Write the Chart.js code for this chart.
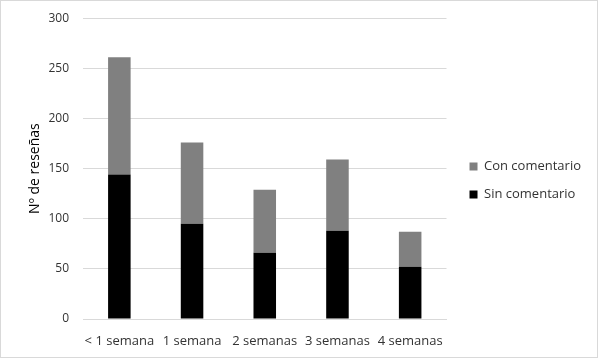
<!DOCTYPE html>
<html lang="es">
<head>
<meta charset="UTF-8">
<title>Nº de reseñas</title>
<script src="https://cdn.jsdelivr.net/npm/chart.js"></script>
<style>
  html, body { margin: 0; padding: 0; background: #fff; }
  #wrap { width: 596px; height: 356px; border: 1px solid #d9d9d9; }
</style>
</head>
<body>
<div id="wrap"><canvas id="myChart" width="596" height="356"></canvas></div>
<script>
// datos
const categorias = ['< 1 semana', '1 semana', '2 semanas', '3 semanas', '4 semanas'];
const sinComentario = [144, 95, 66, 88, 52];
const conComentario = [117, 81, 63, 71, 35];
const yTicks = [0, 50, 100, 150, 200, 250, 300];

const colorTexto = '#333333';

// ajusta la posicion de la leyenda al original
const moverLeyenda = {
    id: 'moverLeyenda',
    afterLayout(chart) {
        const lg = chart.legend;
        lg.top -= 1; lg.bottom -= 1;
        lg.left += 8; lg.right += 8;
    }
};

const ctx = document.getElementById('myChart').getContext('2d');
new Chart(ctx, {
    type: 'bar',
    data: {
        labels: categorias,
        datasets: [
            {
                label: 'Sin comentario',
                data: sinComentario,
                backgroundColor: '#000000',
                categoryPercentage: 0.62,
                barPercentage: 0.5
            },
            {
                label: 'Con comentario',
                data: conComentario,
                backgroundColor: '#808080',
                categoryPercentage: 0.62,
                barPercentage: 0.5
            }
        ]
    },
    options: {
        responsive: false,
        animation: false,
        layout: { padding: { top: 5, right: 14, left: 26, bottom: 0 } },
        scales: {
            x: {
                stacked: true,
                grid: { display: false },
                border: { color: '#d9d9d9' },
                ticks: { color: colorTexto, font: { family: 'Open Sans', size: 13 }, maxRotation: 0, padding: 6 },
                afterFit: s => { s.height = 38; }
            },
            y: {
                stacked: true,
                min: 0,
                max: 300,
                afterBuildTicks: s => { s.ticks = yTicks.map(v => ({ value: v })); },
                grid: { color: '#d9d9d9', drawTicks: true, tickLength: 4, tickColor: 'rgba(0,0,0,0)' },
                border: { display: false },
                ticks: { color: colorTexto, font: { family: 'Open Sans', size: 12 }, padding: 10 },
                title: {
                    display: true,
                    text: 'Nº de reseñas',
                    color: '#000',
                    font: { family: 'Open Sans', size: 14 },
                    padding: { top: 0, bottom: 4 }
                },
                afterFit: s => { s.width = 56; }
            }
        },
        plugins: {
            legend: {
                position: 'right',
                reverse: true,
                labels: {
                    color: colorTexto,
                    font: { family: 'Open Sans', size: 13 },
                    boxWidth: 8,
                    boxHeight: 8,
                    padding: 15
                }
            },
            tooltip: { enabled: false }
        }
    },
    plugins: [moverLeyenda]
});
</script>
</body>
</html>
